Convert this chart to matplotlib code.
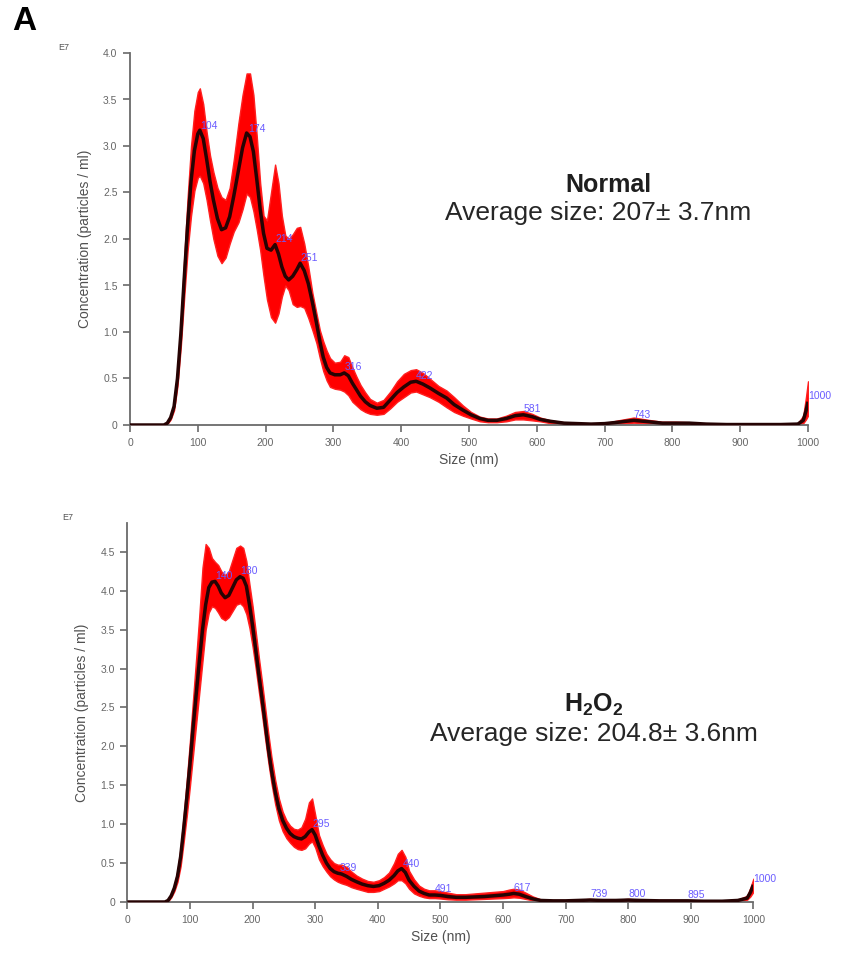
import matplotlib
matplotlib.use("Agg")
import matplotlib.pyplot as plt
import numpy as np

plt.rcParams['font.family'] = ['Liberation Sans', 'DejaVu Sans']
plt.rcParams['mathtext.fontset'] = 'custom'
plt.rcParams['mathtext.rm'] = 'Liberation Sans'
plt.rcParams['mathtext.bf'] = 'Liberation Sans:bold'

# ---- Normal sample (concentration in 1e7 particles/ml) ----
size_normal = [0, 50, 55, 60, 65, 70, 75, 80, 85, 90, 95, 100, 103, 108, 113, 118, 123, 129,
               135, 141, 147, 153, 160, 166, 172, 177, 182, 187, 192, 197, 202, 208, 214, 219,
               224, 229, 234, 240, 246, 251, 257, 263, 269, 275, 280, 285, 290, 295, 302, 310,
               316, 322, 328, 334, 340, 347, 354, 364, 374, 384, 394, 404, 414, 422, 432, 442,
               455, 467, 478, 491, 503, 516, 528, 541, 555, 568, 580, 593, 605, 620, 640, 660,
               680, 700, 720, 743, 765, 785, 805, 825, 850, 880, 920, 960, 985, 993, 997, 1000]
mean_normal = [0, 0, 0.02, 0.08, 0.20, 0.50, 0.98, 1.58, 2.15, 2.62, 2.95, 3.13, 3.17, 3.08,
               2.86, 2.62, 2.42, 2.22, 2.10, 2.12, 2.24, 2.46, 2.74, 2.98, 3.14, 3.10, 2.94,
               2.64, 2.32, 2.06, 1.90, 1.88, 1.94, 1.84, 1.70, 1.60, 1.56, 1.60, 1.67, 1.74,
               1.66, 1.52, 1.32, 1.10, 0.90, 0.73, 0.62, 0.56, 0.54, 0.54, 0.56, 0.53, 0.45,
               0.38, 0.31, 0.25, 0.21, 0.18, 0.19, 0.27, 0.35, 0.41, 0.46, 0.47, 0.44, 0.40,
               0.34, 0.29, 0.22, 0.16, 0.11, 0.07, 0.05, 0.05, 0.07, 0.10, 0.11, 0.09, 0.06,
               0.04, 0.02, 0.015, 0.01, 0.015, 0.03, 0.05, 0.035, 0.02, 0.02, 0.02, 0.01,
               0.005, 0.005, 0.005, 0.01, 0.05, 0.15, 0.25]
upper_normal = [0, 0, 0.03, 0.10, 0.24, 0.58, 1.12, 1.80, 2.45, 3.00, 3.38, 3.58, 3.62, 3.45,
                3.15, 2.90, 2.72, 2.55, 2.45, 2.42, 2.55, 2.85, 3.25, 3.55, 3.78, 3.78, 3.55,
                3.10, 2.60, 2.25, 2.20, 2.50, 2.80, 2.60, 2.25, 2.04, 2.00, 2.05, 2.12, 2.13,
                1.95, 1.70, 1.42, 1.20, 1.02, 0.90, 0.80, 0.72, 0.67, 0.68, 0.75, 0.73, 0.62,
                0.52, 0.43, 0.35, 0.28, 0.24, 0.27, 0.36, 0.47, 0.55, 0.59, 0.60, 0.56, 0.50,
                0.42, 0.37, 0.30, 0.21, 0.14, 0.09, 0.07, 0.07, 0.10, 0.14, 0.15, 0.12, 0.08,
                0.05, 0.03, 0.02, 0.015, 0.02, 0.05, 0.08, 0.055, 0.035, 0.035, 0.03, 0.015,
                0.008, 0.008, 0.008, 0.02, 0.10, 0.30, 0.47]
lower_normal = [0, 0, 0.01, 0.06, 0.16, 0.42, 0.85, 1.38, 1.88, 2.25, 2.52, 2.66, 2.68, 2.60,
                2.42, 2.20, 2.00, 1.82, 1.74, 1.80, 1.95, 2.08, 2.18, 2.32, 2.49, 2.45, 2.30,
                2.10, 1.88, 1.60, 1.35, 1.16, 1.10, 1.20, 1.38, 1.50, 1.45, 1.30, 1.27, 1.28,
                1.26, 1.15, 1.02, 0.88, 0.72, 0.58, 0.48, 0.41, 0.39, 0.38, 0.36, 0.32, 0.25,
                0.21, 0.17, 0.14, 0.12, 0.11, 0.12, 0.18, 0.25, 0.30, 0.35, 0.36, 0.33, 0.30,
                0.25, 0.19, 0.14, 0.10, 0.07, 0.04, 0.03, 0.03, 0.04, 0.06, 0.06, 0.05, 0.04,
                0.02, 0.01, 0.008, 0.005, 0.008, 0.015, 0.025, 0.018, 0.01, 0.01, 0.01, 0.005,
                0.002, 0.002, 0.002, 0.005, 0.02, 0.06, 0.10]
peaks_normal = [104, 174, 214, 251, 316, 422, 581, 743, 1000]

# ---- H2O2 treated sample ----
size_h2o2 = [0, 60, 65, 70, 75, 80, 85, 90, 95, 100, 105, 110, 115, 120, 125, 130, 135, 140,
             145, 150, 156, 162, 168, 174, 180, 185, 190, 195, 200, 205, 210, 215, 220, 225,
             230, 236, 242, 248, 254, 260, 266, 272, 278, 284, 290, 295, 300, 306, 312, 318,
             324, 330, 336, 342, 350, 358, 366, 375, 384, 393, 402, 410, 418, 426, 432, 438,
             444, 450, 458, 466, 474, 482, 491, 500, 512, 525, 540, 555, 570, 585, 600, 610,
             617, 626, 636, 648, 660, 680, 700, 720, 739, 760, 780, 800, 820, 850, 870, 895,
             920, 950, 975, 990, 995, 1000]
mean_h2o2 = [0, 0, 0.02, 0.08, 0.18, 0.33, 0.58, 0.95, 1.35, 1.78, 2.25, 2.68, 3.10, 3.50,
             3.82, 4.04, 4.11, 4.12, 4.06, 3.97, 3.91, 3.94, 4.04, 4.14, 4.18, 4.16, 4.06,
             3.82, 3.55, 3.24, 2.92, 2.62, 2.30, 1.98, 1.70, 1.42, 1.20, 1.05, 0.95, 0.88,
             0.84, 0.82, 0.81, 0.84, 0.90, 0.93, 0.86, 0.72, 0.60, 0.50, 0.43, 0.39, 0.37,
             0.36, 0.33, 0.29, 0.26, 0.23, 0.21, 0.20, 0.21, 0.24, 0.28, 0.34, 0.40, 0.43,
             0.38, 0.28, 0.20, 0.14, 0.11, 0.09, 0.09, 0.085, 0.07, 0.06, 0.06, 0.065, 0.07,
             0.08, 0.09, 0.10, 0.11, 0.10, 0.07, 0.04, 0.02, 0.015, 0.015, 0.02, 0.025, 0.02,
             0.02, 0.025, 0.02, 0.015, 0.015, 0.015, 0.01, 0.01, 0.02, 0.05, 0.12, 0.22]
upper_h2o2 = [0, 0, 0.03, 0.10, 0.22, 0.40, 0.70, 1.12, 1.58, 2.08, 2.62, 3.15, 3.70, 4.30,
              4.60, 4.55, 4.42, 4.37, 4.33, 4.25, 4.20, 4.25, 4.40, 4.55, 4.58, 4.55, 4.38,
              4.08, 3.80, 3.47, 3.14, 2.83, 2.50, 2.17, 1.87, 1.57, 1.33, 1.16, 1.05, 0.98,
              0.94, 0.93, 0.96, 1.07, 1.28, 1.33, 1.12, 0.86, 0.73, 0.62, 0.55, 0.50, 0.48,
              0.48, 0.45, 0.39, 0.34, 0.30, 0.27, 0.26, 0.28, 0.32, 0.38, 0.50, 0.62, 0.67,
              0.58, 0.40, 0.29, 0.21, 0.17, 0.15, 0.15, 0.14, 0.12, 0.10, 0.10, 0.11, 0.12,
              0.13, 0.14, 0.16, 0.17, 0.16, 0.12, 0.07, 0.035, 0.025, 0.025, 0.03, 0.04, 0.03,
              0.03, 0.04, 0.03, 0.025, 0.025, 0.025, 0.018, 0.018, 0.03, 0.08, 0.18, 0.30]
lower_h2o2 = [0, 0, 0.01, 0.06, 0.14, 0.26, 0.46, 0.78, 1.12, 1.50, 1.90, 2.30, 2.70, 3.10,
              3.50, 3.72, 3.80, 3.78, 3.72, 3.65, 3.62, 3.66, 3.74, 3.82, 3.84, 3.80, 3.70,
              3.52, 3.28, 3.00, 2.70, 2.41, 2.10, 1.80, 1.53, 1.26, 1.05, 0.91, 0.82, 0.76,
              0.71, 0.68, 0.67, 0.69, 0.75, 0.78, 0.70, 0.55, 0.46, 0.39, 0.33, 0.29, 0.26,
              0.24, 0.22, 0.19, 0.17, 0.15, 0.13, 0.13, 0.14, 0.17, 0.20, 0.24, 0.28, 0.28,
              0.24, 0.17, 0.11, 0.08, 0.06, 0.05, 0.05, 0.045, 0.035, 0.03, 0.03, 0.035, 0.04,
              0.045, 0.05, 0.055, 0.06, 0.055, 0.04, 0.02, 0.01, 0.008, 0.008, 0.01, 0.012,
              0.01, 0.01, 0.012, 0.01, 0.008, 0.008, 0.008, 0.005, 0.005, 0.01, 0.03, 0.07, 0.13]
peaks_h2o2 = [140, 180, 295, 339, 440, 491, 617, 739, 800, 895, 1000]

size_ticks = list(range(0, 1001, 100))


def draw_panel(ax, size, mean, lower, upper, peaks, ymax, yticks):
    ax.fill_between(size, lower, upper, color='#ff0000', linewidth=1.0,
                    edgecolor='#ff2020', zorder=2)
    ax.plot(size, mean, color='#260303', linewidth=2.5, zorder=3,
            solid_capstyle='butt')
    for p in peaks:
        y = np.interp(p, size, mean)
        ax.annotate(str(p), (p, y), xytext=(0, 4), textcoords='offset points',
                    ha='left', va='center', fontsize=7.5, color='#6a5cff', zorder=4)
    ax.set_xlim(0, 1000)
    ax.set_ylim(0, ymax)
    ax.set_xticks(size_ticks)
    ax.set_xticklabels([str(t) for t in size_ticks])
    ax.set_yticks(yticks)
    ax.set_yticklabels(['0' if t == 0 else f'{t:.1f}' for t in yticks])
    for side in ('top', 'right'):
        ax.spines[side].set_visible(False)
    for side in ('left', 'bottom'):
        ax.spines[side].set_color('#6a6a6a')
        ax.spines[side].set_linewidth(1.3)
    ax.tick_params(direction='out', length=5, width=1.2, color='#6a6a6a',
                   labelsize=7.5, labelcolor='#666666', pad=4)
    ax.set_xlabel('Size (nm)', fontsize=10, color='#505050', labelpad=4)
    ax.set_ylabel('Concentration (particles / ml)', fontsize=10, color='#505050',
                  labelpad=8)
    ax.patch.set_alpha(0)


fig = plt.figure(figsize=(8.41, 9.55), dpi=100)

ax1 = fig.add_axes([130 / 841, 1 - 425 / 955, 678 / 841, 372 / 955])
draw_panel(ax1, size_normal, mean_normal, lower_normal, upper_normal, peaks_normal,
           4.0, [0, 0.5, 1.0, 1.5, 2.0, 2.5, 3.0, 3.5, 4.0])

ax2 = fig.add_axes([127.4 / 841, 1 - 902 / 955, 626 / 841, 379 / 955])
draw_panel(ax2, size_h2o2, mean_h2o2, lower_h2o2, upper_h2o2, peaks_h2o2,
           4.87, [0, 0.5, 1.0, 1.5, 2.0, 2.5, 3.0, 3.5, 4.0, 4.5])

# exponent markers above each y axis
fig.text(64 / 841, 1 - 48 / 955, 'E7', fontsize=6.5, color='#555555', ha='center', va='center')
fig.text(68 / 841, 1 - 518 / 955, 'E7', fontsize=6.5, color='#555555', ha='center', va='center')

# panel letter
fig.text(24 / 841, 1 - 21 / 955, 'A', fontsize=24, fontweight='bold', color='black',
         ha='center', va='center')

# group names and mean sizes
fig.text(608 / 841, 1 - 185 / 955, 'Normal', fontsize=18, fontweight='bold',
         color='#1e1e1e', ha='center', va='center')
fig.text(598 / 841, 1 - 213 / 955, 'Average size: 207\u00b1 3.7nm', fontsize=19,
         color='#262626', ha='center', va='center')
fig.text(594 / 841, 1 - 705 / 955, r'$\mathbf{H_2O_2}$', fontsize=18,
         color='#1e1e1e', ha='center', va='center')
fig.text(594 / 841, 1 - 734 / 955, 'Average size: 204.8\u00b1 3.6nm', fontsize=19,
         color='#262626', ha='center', va='center')

fig.savefig('out.png', dpi=100)
plt.close(fig)
